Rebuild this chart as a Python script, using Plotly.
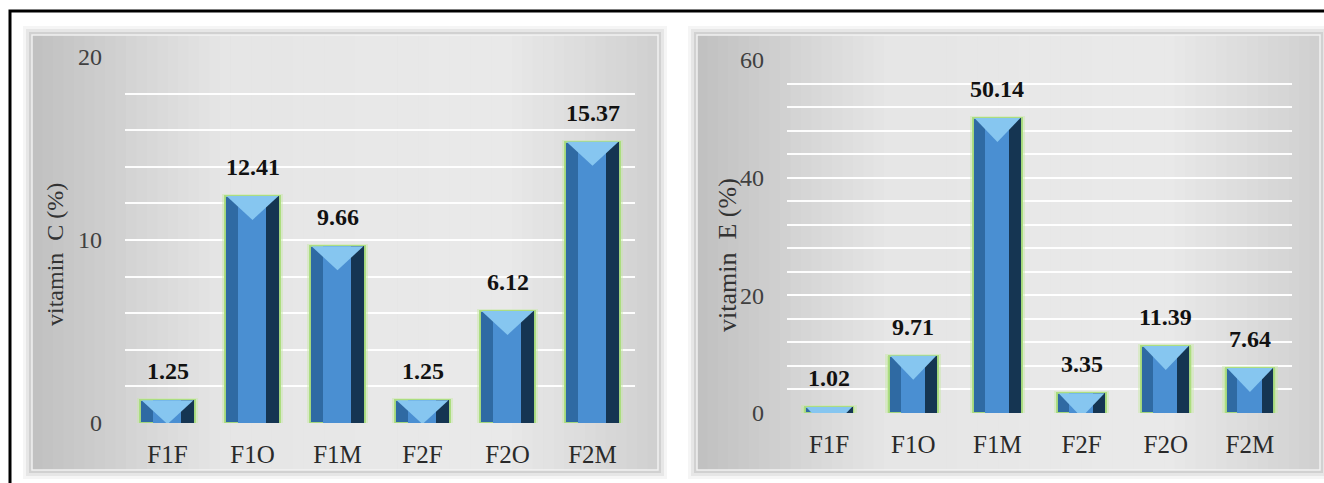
import plotly.graph_objects as go

categories = ["F1F", "F1O", "F1M", "F2F", "F2O", "F2M"]
vitamin_c = [1.25, 12.41, 9.66, 1.25, 6.12, 15.37]
vitamin_e = [1.02, 9.71, 50.14, 3.35, 11.39, 7.64]
c_labels = ["1.25", "12.41", "9.66", "1.25", "6.12", "15.37"]
e_labels = ["1.02", "9.71", "50.14", "3.35", "11.39", "7.64"]
c_ticks = [0, 10, 20]
e_ticks = [0, 20, 40, 60]

W, H = 1324, 483
SERIF = "Liberation Serif, Times New Roman, serif"

def px(x):
    return x / W

def py(y):
    return 1 - y / H

fig = go.Figure()

shapes = []
# outer black frame (only top/left visible in the crop)
shapes.append(dict(type="rect", xref="paper", yref="paper", x0=px(10), x1=1.05, y0=-0.05, y1=py(11),
                   line=dict(color="black", width=3), fillcolor="rgba(0,0,0,0)", layer="below"))

def panel(x0, x1, y0, y1):
    # soft shadow
    for i, a in zip([9, 6, 3], [0.04, 0.06, 0.09]):
        shapes.append(dict(type="rect", xref="paper", yref="paper", x0=px(x0 - i), x1=px(x1 + i),
                           y0=py(y1 + i), y1=py(y0 - i), line=dict(width=0),
                           fillcolor=f"rgba(0,0,0,{a})", layer="below"))
    n = 60
    for k in range(n):
        f = (k + 0.5) / n
        if f < 0.3:
            v = 192 + (230 - 192) * (f / 0.3)
        elif f < 0.75:
            v = 230 + 4 * (f - 0.3) / 0.45
        else:
            v = 234 - (234 - 208) * ((f - 0.75) / 0.25)
        v = int(v)
        xa = x0 + (x1 - x0) * k / n
        xb = x0 + (x1 - x0) * (k + 1) / n
        shapes.append(dict(type="rect", xref="paper", yref="paper", x0=px(xa), x1=px(xb + 0.6),
                           y0=py(y1), y1=py(y0), line=dict(width=0),
                           fillcolor=f"rgb({v},{v},{v})", layer="below"))
    shapes.append(dict(type="rect", xref="paper", yref="paper", x0=px(x0), x1=px(x1),
                       y0=py(y1), y1=py(y0), line=dict(color="rgba(245,245,245,0.9)", width=1.5),
                       fillcolor="rgba(0,0,0,0)", layer="below"))

panel(32, 658, 35, 470)
panel(697, 1320, 35, 470)

def add_bars(vals, xa, ya, width, half_px):
    # soft green glow
    fig.add_trace(go.Bar(x=categories, y=vals, width=width * 1.06, xaxis=xa, yaxis=ya,
                         marker=dict(color="rgba(190,228,150,0.55)", line=dict(color="rgba(200,232,165,0.45)", width=4)),
                         hoverinfo="skip", showlegend=False))
    fig.add_trace(go.Bar(x=categories, y=vals, width=width, xaxis=xa, yaxis=ya,
                         marker=dict(color="#2f6aa3", line=dict(color="rgba(170,220,125,0.95)", width=2)),
                         hoverinfo="skip", showlegend=False))
    fig.add_trace(go.Bar(x=categories, y=vals, width=width * 0.26, offset=width * 0.22, xaxis=xa, yaxis=ya,
                         marker=dict(color="#153552", line=dict(width=0)),
                         hoverinfo="skip", showlegend=False))
    fig.add_trace(go.Bar(x=categories, y=vals, width=width * 0.5, offset=-width * 0.26, xaxis=xa, yaxis=ya,
                         marker=dict(color="#4a8fd2", line=dict(width=0)),
                         hoverinfo="skip", showlegend=False))
    for c, v in zip(categories, vals):
        shapes.append(dict(type="path", xref=xa, yref=ya, xsizemode="pixel", ysizemode="pixel",
                           xanchor=c, yanchor=v,
                           path=f"M{-half_px},0 L{half_px},0 L0,-24 Z",
                           fillcolor="#86c6f0", line=dict(width=0), layer="above"))

add_bars(vitamin_c, "x", "y", 0.64, 26)
add_bars(vitamin_e, "x2", "y2", 0.58, 23)

annotations = []
for c, v, t in zip(categories, vitamin_c, c_labels):
    annotations.append(dict(x=c, y=v, xref="x", yref="y", text=f"<b>{t}</b>", showarrow=False,
                            yanchor="bottom", yshift=14, font=dict(family=SERIF, size=24, color="#111111")))
for c, v, t in zip(categories, vitamin_e, e_labels):
    annotations.append(dict(x=c, y=v, xref="x2", yref="y2", text=f"<b>{t}</b>", showarrow=False,
                            yanchor="bottom", yshift=14, font=dict(family=SERIF, size=24, color="#111111")))

annotations.append(dict(x=px(55), y=py(255), xref="paper", yref="paper", text="vitamin  C (%)",
                        xanchor="center", yanchor="middle",
                        textangle=-90, showarrow=False, font=dict(family=SERIF, size=24, color="#333333")))
annotations.append(dict(x=px(727), y=py(255), xref="paper", yref="paper", text="vitamin  E (%)",
                        xanchor="center", yanchor="middle",
                        textangle=-90, showarrow=False, font=dict(family=SERIF, size=26, color="#333333")))

xcommon = dict(type="category", showgrid=False, showline=False, zeroline=False, ticks="",
               tickfont=dict(family=SERIF, size=25, color="#2a2a2a"), ticklabelstandoff=14,
               fixedrange=True, automargin=False)
ycommon = dict(showline=False, zeroline=False, ticks="", gridcolor="rgba(255,255,255,0.95)", gridwidth=2,
               tickfont=dict(family=SERIF, size=24, color="#404040"), ticklabelstandoff=22,
               fixedrange=True, automargin=False)

fig.update_layout(
    width=W, height=H,
    margin=dict(l=0, r=0, t=0, b=0, pad=0),
    paper_bgcolor="white",
    plot_bgcolor="rgba(0,0,0,0)",
    barmode="overlay",
    bargap=0,
    xaxis=dict(domain=[px(125), px(635)], anchor="y", **xcommon),
    yaxis=dict(domain=[py(423), py(57)], anchor="x", range=[0, 20], tickvals=c_ticks,
               minor=dict(dtick=2, showgrid=True, gridcolor="rgba(255,255,255,0.95)", gridwidth=2),
               **ycommon),
    xaxis2=dict(domain=[px(787), px(1292)], anchor="y2", **xcommon),
    yaxis2=dict(domain=[py(413), py(60)], anchor="x2", range=[0, 60], tickvals=e_ticks,
                minor=dict(dtick=4, showgrid=True, gridcolor="rgba(255,255,255,0.95)", gridwidth=2),
                **ycommon),
    shapes=shapes,
    annotations=annotations,
)

fig.write_html("out.html")
